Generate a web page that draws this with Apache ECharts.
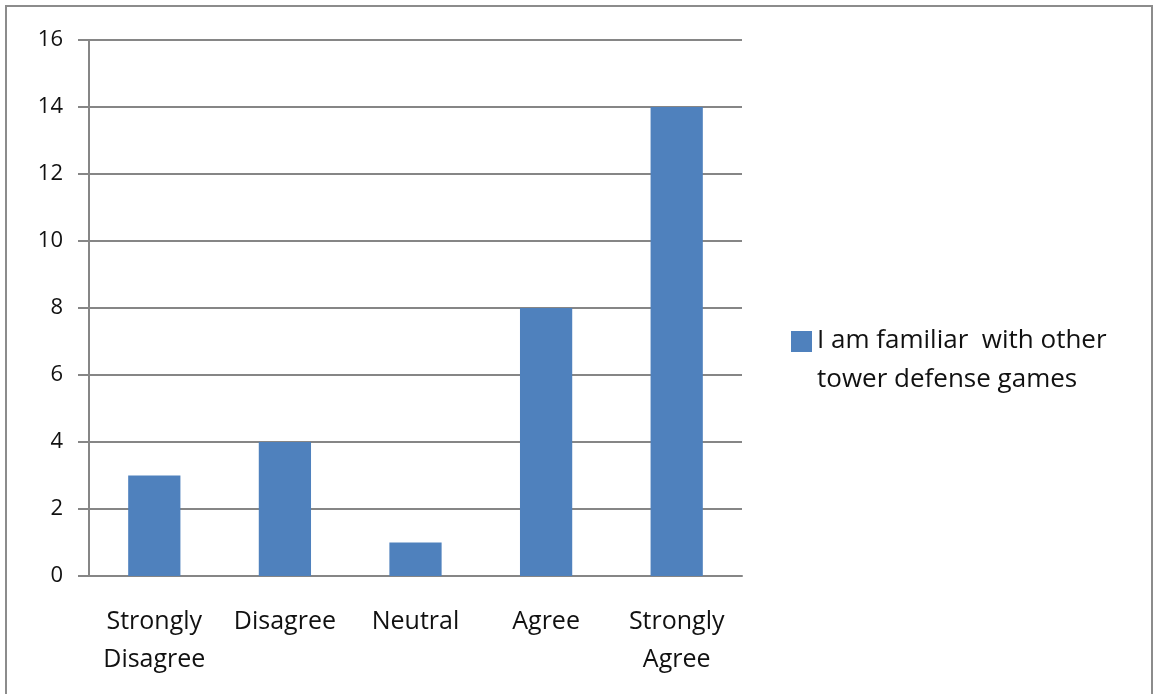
<!DOCTYPE html>
<html>
<head>
<meta charset="utf-8">
<script src="https://cdn.jsdelivr.net/npm/echarts@6/dist/echarts.min.js"></script>
<style>
html, body { margin: 0; padding: 0; background: #fff; }
#main { width: 1155px; height: 694px; }
</style>
</head>
<body>
<div id="main"></div>
<script>
const categories = ['Strongly\nDisagree', 'Disagree', 'Neutral', 'Agree', 'Strongly\nAgree']
const values = [3, 4, 1, 8, 14]
const seriesName = 'I am familiar  with other\ntower defense games'

const chart = echarts.init(document.getElementById('main'))
const font = '"Open Sans", sans-serif'
chart.setOption({
  animation: false,
  textStyle: { fontFamily: font },
  graphic: [{
    type: 'rect',
    shape: { x: 6, y: 6, width: 1146, height: 700 },
    style: { fill: 'none', stroke: '#8c8c8c', lineWidth: 2 }
  }],
  grid: { left: 89, right: 413, top: 40, bottom: 118 },
  legend: {
    left: 791, top: 321, padding: 0,
    orient: 'vertical',
    itemWidth: 21, itemHeight: 58, itemGap: 5,
    // square at top of a tall box so it sits on the first text line
    icon: 'path://M0,0H21V21H0Z M0,58H21',
    textStyle: { fontSize: 26, color: '#111', lineHeight: 39, fontFamily: font },
    data: [seriesName]
  },
  xAxis: {
    type: 'category',
    data: categories,
    axisLine: { lineStyle: { color: '#868686', width: 2 } },
    axisTick: { length: 10, lineStyle: { color: '#868686', width: 2 } },
    axisLabel: {
      interval: 0, hideOverlap: false,
      color: '#111', fontSize: 25, lineHeight: 38, margin: 27, fontFamily: font
    }
  },
  yAxis: {
    type: 'value',
    min: 0, max: 16, interval: 2,
    axisLine: { show: true, lineStyle: { color: '#868686', width: 2 } },
    axisTick: { show: true, inside: false, length: 11, lineStyle: { color: '#868686', width: 2 } },
    splitLine: { lineStyle: { color: '#868686', width: 2 } },
    axisLabel: { color: '#111', fontSize: 22, margin: 26, fontFamily: font }
  },
  series: [{
    name: seriesName,
    type: 'bar',
    data: values,
    barWidth: '40%',
    itemStyle: { color: '#4F81BD' }
  }]
})
</script>
</body>
</html>
